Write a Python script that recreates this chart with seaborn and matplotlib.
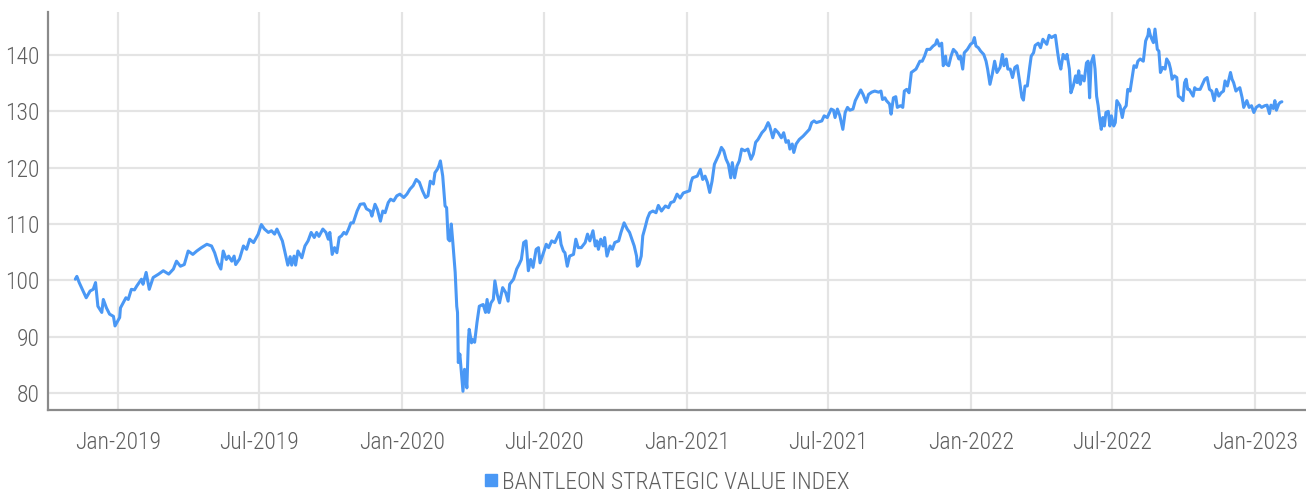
import matplotlib
matplotlib.use("Agg")
import matplotlib.pyplot as plt
import matplotlib.dates as mdates
from matplotlib import font_manager
from matplotlib.lines import Line2D
import pandas as pd
import seaborn as sns

# Index level, BANTLEON Strategic Value Index
dates = [
    "2018-11-07", "2018-11-09", "2018-11-12", "2018-11-16", "2018-11-21", "2018-11-26", "2018-11-30",
    "2018-12-03", "2018-12-06", "2018-12-11", "2018-12-13", "2018-12-17", "2018-12-21", "2018-12-26",
    "2018-12-28", "2019-01-03", "2019-01-04", "2019-01-11", "2019-01-14", "2019-01-18", "2019-01-22",
    "2019-01-25", "2019-01-31", "2019-02-02", "2019-02-06", "2019-02-10", "2019-02-15", "2019-02-22",
    "2019-02-28", "2019-03-07", "2019-03-13", "2019-03-17", "2019-03-22", "2019-03-27", "2019-04-01",
    "2019-04-07", "2019-04-12", "2019-04-18", "2019-04-25", "2019-05-01", "2019-05-05", "2019-05-09",
    "2019-05-13", "2019-05-16", "2019-05-20", "2019-05-23", "2019-05-27", "2019-05-30", "2019-06-01",
    "2019-06-06", "2019-06-11", "2019-06-15", "2019-06-19", "2019-06-24", "2019-06-30", "2019-07-04",
    "2019-07-08", "2019-07-13", "2019-07-17", "2019-07-21", "2019-07-24", "2019-07-28", "2019-07-31",
    "2019-08-03", "2019-08-07", "2019-08-10", "2019-08-12", "2019-08-15", "2019-08-17", "2019-08-20",
    "2019-08-25", "2019-08-29", "2019-09-02", "2019-09-06", "2019-09-10", "2019-09-13", "2019-09-16",
    "2019-09-21", "2019-09-25", "2019-09-28", "2019-09-30", "2019-10-03", "2019-10-06", "2019-10-09",
    "2019-10-12", "2019-10-15", "2019-10-18", "2019-10-21", "2019-10-24", "2019-10-27", "2019-10-30",
    "2019-11-04", "2019-11-08", "2019-11-13", "2019-11-16", "2019-11-21", "2019-11-23", "2019-11-27",
    "2019-11-30", "2019-12-04", "2019-12-07", "2019-12-10", "2019-12-14", "2019-12-17", "2019-12-21",
    "2019-12-25", "2019-12-29", "2020-01-03", "2020-01-07", "2020-01-11", "2020-01-15", "2020-01-19",
    "2020-01-23", "2020-01-27", "2020-01-31", "2020-02-03", "2020-02-06", "2020-02-10", "2020-02-12",
    "2020-02-15", "2020-02-17", "2020-02-19", "2020-02-22", "2020-02-25", "2020-02-27", "2020-02-29",
    "2020-03-02", "2020-03-04", "2020-03-06", "2020-03-09", "2020-03-11", "2020-03-12", "2020-03-13",
    "2020-03-15", "2020-03-17", "2020-03-19", "2020-03-21", "2020-03-22", "2020-03-24", "2020-03-26",
    "2020-03-27", "2020-03-30", "2020-03-31", "2020-04-03", "2020-04-06", "2020-04-09", "2020-04-12",
    "2020-04-14", "2020-04-17", "2020-04-19", "2020-04-21", "2020-04-24", "2020-04-27", "2020-04-29",
    "2020-05-02", "2020-05-05", "2020-05-09", "2020-05-13", "2020-05-16", "2020-05-18", "2020-05-23",
    "2020-05-27", "2020-05-30", "2020-06-02", "2020-06-05", "2020-06-08", "2020-06-11", "2020-06-14",
    "2020-06-17", "2020-06-21", "2020-06-24", "2020-06-26", "2020-06-29", "2020-07-04", "2020-07-07",
    "2020-07-11", "2020-07-15", "2020-07-18", "2020-07-21", "2020-07-23", "2020-07-26", "2020-07-28",
    "2020-07-31", "2020-08-03", "2020-08-08", "2020-08-11", "2020-08-14", "2020-08-18", "2020-08-23",
    "2020-08-26", "2020-08-29", "2020-09-02", "2020-09-05", "2020-09-07", "2020-09-09", "2020-09-12",
    "2020-09-15", "2020-09-17", "2020-09-20", "2020-09-24", "2020-09-27", "2020-09-30", "2020-10-05",
    "2020-10-08", "2020-10-12", "2020-10-16", "2020-10-19", "2020-10-22", "2020-10-25", "2020-10-28",
    "2020-10-29", "2020-10-31", "2020-11-03", "2020-11-05", "2020-11-08", "2020-11-11", "2020-11-14",
    "2020-11-18", "2020-11-22", "2020-11-25", "2020-11-29", "2020-12-04", "2020-12-08", "2020-12-11",
    "2020-12-15", "2020-12-19", "2020-12-23", "2020-12-27", "2020-12-31", "2021-01-04", "2021-01-06",
    "2021-01-08", "2021-01-14", "2021-01-18", "2021-01-21", "2021-01-24", "2021-01-27", "2021-01-30",
    "2021-02-02", "2021-02-05", "2021-02-08", "2021-02-11", "2021-02-14", "2021-02-17", "2021-02-20",
    "2021-02-23", "2021-02-26", "2021-02-28", "2021-03-03", "2021-03-06", "2021-03-09", "2021-03-12",
    "2021-03-16", "2021-03-20", "2021-03-24", "2021-03-27", "2021-03-30", "2021-04-02", "2021-04-07",
    "2021-04-11", "2021-04-15", "2021-04-17", "2021-04-21", "2021-04-24", "2021-04-28", "2021-05-02",
    "2021-05-05", "2021-05-08", "2021-05-11", "2021-05-13", "2021-05-16", "2021-05-18", "2021-05-21",
    "2021-05-25", "2021-05-30", "2021-06-03", "2021-06-07", "2021-06-10", "2021-06-13", "2021-06-16",
    "2021-06-23", "2021-06-26", "2021-06-30", "2021-07-05", "2021-07-08", "2021-07-10", "2021-07-13",
    "2021-07-16", "2021-07-20", "2021-07-23", "2021-07-26", "2021-07-29", "2021-08-02", "2021-08-05",
    "2021-08-09", "2021-08-12", "2021-08-15", "2021-08-19", "2021-08-22", "2021-08-26", "2021-08-30",
    "2021-09-04", "2021-09-07", "2021-09-09", "2021-09-12", "2021-09-14", "2021-09-18", "2021-09-20",
    "2021-09-23", "2021-09-26", "2021-09-28", "2021-10-02", "2021-10-05", "2021-10-07", "2021-10-10",
    "2021-10-13", "2021-10-16", "2021-10-19", "2021-10-22", "2021-10-27", "2021-10-30", "2021-11-02",
    "2021-11-05", "2021-11-09", "2021-11-13", "2021-11-16", "2021-11-18", "2021-11-21", "2021-11-24",
    "2021-11-26", "2021-11-29", "2021-11-30", "2021-12-03", "2021-12-06", "2021-12-09", "2021-12-13",
    "2021-12-16", "2021-12-18", "2021-12-21", "2021-12-23", "2021-12-27", "2021-12-31", "2022-01-03",
    "2022-01-05", "2022-01-07", "2022-01-10", "2022-01-13", "2022-01-17", "2022-01-20", "2022-01-22",
    "2022-01-25", "2022-01-28", "2022-01-31", "2022-02-03", "2022-02-07", "2022-02-10", "2022-02-12",
    "2022-02-15", "2022-02-17", "2022-02-20", "2022-02-23", "2022-02-26", "2022-03-01", "2022-03-04",
    "2022-03-07", "2022-03-09", "2022-03-11", "2022-03-14", "2022-03-17", "2022-03-19", "2022-03-22",
    "2022-03-24", "2022-03-28", "2022-03-31", "2022-04-03", "2022-04-08", "2022-04-11", "2022-04-14",
    "2022-04-19", "2022-04-22", "2022-04-24", "2022-04-26", "2022-04-29", "2022-05-02", "2022-05-04",
    "2022-05-07", "2022-05-09", "2022-05-12", "2022-05-15", "2022-05-17", "2022-05-19", "2022-05-21",
    "2022-05-23", "2022-05-26", "2022-05-29", "2022-05-31", "2022-06-02", "2022-06-04", "2022-06-07",
    "2022-06-09", "2022-06-11", "2022-06-13", "2022-06-15", "2022-06-17", "2022-06-19", "2022-06-21",
    "2022-06-23", "2022-06-26", "2022-06-28", "2022-06-30", "2022-07-03", "2022-07-05", "2022-07-07",
    "2022-07-11", "2022-07-14", "2022-07-16", "2022-07-19", "2022-07-21", "2022-07-24", "2022-07-27",
    "2022-07-29", "2022-08-01", "2022-08-03", "2022-08-06", "2022-08-10", "2022-08-13", "2022-08-16",
    "2022-08-17", "2022-08-19", "2022-08-21", "2022-08-23", "2022-08-25", "2022-08-28", "2022-08-30",
    "2022-09-01", "2022-09-04", "2022-09-07", "2022-09-09", "2022-09-12", "2022-09-14", "2022-09-16",
    "2022-09-19", "2022-09-22", "2022-09-24", "2022-09-27", "2022-09-30", "2022-10-02", "2022-10-04",
    "2022-10-06", "2022-10-08", "2022-10-13", "2022-10-15", "2022-10-17", "2022-10-22", "2022-10-25",
    "2022-10-28", "2022-10-31", "2022-11-03", "2022-11-06", "2022-11-09", "2022-11-12", "2022-11-15",
    "2022-11-18", "2022-11-21", "2022-11-23", "2022-11-26", "2022-11-30", "2022-12-02", "2022-12-04",
    "2022-12-07", "2022-12-09", "2022-12-12", "2022-12-15", "2022-12-17", "2022-12-19", "2022-12-21",
    "2022-12-24", "2022-12-27", "2022-12-30", "2023-01-02", "2023-01-06", "2023-01-09", "2023-01-13",
    "2023-01-16", "2023-01-19", "2023-01-21", "2023-01-24", "2023-01-26", "2023-01-28", "2023-01-31",
    "2023-02-02", "2023-02-04",
]

values = [
    100.2, 100.7, 99.6, 98.4, 96.9, 98.1, 98.4,
    99.6, 95.4, 94.3, 96.6, 95.1, 94.0, 93.6,
    91.9, 93.4, 95.1, 96.9, 96.6, 98.4, 98.3,
    99.0, 100.2, 99.3, 101.4, 98.4, 100.5, 101.1,
    101.7, 101.1, 102.0, 103.4, 102.5, 102.8, 105.2,
    104.6, 105.2, 105.8, 106.4, 106.1, 104.9, 103.1,
    102.0, 105.2, 103.7, 104.3, 103.4, 104.3, 102.8,
    103.8, 106.1, 105.5, 107.3, 106.7, 108.2, 109.9,
    109.1, 108.5, 108.8, 108.2, 109.1, 107.9, 107.0,
    105.2, 102.7, 104.2, 102.7, 104.3, 102.7, 105.2,
    104.0, 106.1, 107.0, 108.5, 107.6, 108.5, 107.8,
    109.1, 108.5, 107.3, 108.5, 104.6, 105.8, 104.9,
    107.6, 107.9, 108.5, 108.2, 109.1, 110.2, 110.2,
    112.3, 113.5, 113.6, 112.7, 112.3, 111.4, 113.5,
    112.6, 110.5, 112.3, 112.0, 113.8, 114.4, 114.1,
    115.0, 115.3, 114.7, 115.3, 116.2, 116.8, 117.9,
    117.4, 115.9, 114.7, 115.0, 117.6, 117.1, 119.1,
    119.7, 120.3, 121.2, 118.5, 113.2, 112.9, 107.3,
    107.0, 110.0, 106.7, 101.4, 95.4, 94.3, 85.4,
    86.9, 83.6, 80.3, 84.2, 83.6, 80.9, 89.5,
    91.3, 88.9, 89.5, 89.0, 92.5, 95.4, 95.6,
    95.7, 94.3, 96.6, 94.3, 96.0, 96.6, 99.9,
    97.5, 96.0, 98.7, 97.8, 96.3, 99.3, 100.2,
    102.0, 102.8, 103.7, 106.7, 107.0, 101.7, 103.7,
    102.3, 105.5, 105.8, 103.1, 104.3, 106.4, 105.8,
    107.0, 106.7, 107.6, 108.5, 106.4, 105.2, 104.9,
    102.5, 104.3, 104.6, 107.3, 105.8, 105.8, 106.7,
    108.2, 107.0, 108.8, 106.1, 107.0, 105.5, 107.3,
    106.1, 107.6, 104.3, 106.1, 105.5, 106.7, 107.0,
    108.5, 110.2, 109.1, 108.5, 107.3, 106.1, 104.3,
    102.5, 102.8, 104.3, 107.9, 109.4, 111.0, 112.0,
    112.3, 112.0, 113.3, 112.3, 113.2, 112.9, 113.8,
    114.0, 115.3, 114.6, 115.5, 115.7, 115.9, 117.4,
    118.2, 118.5, 119.7, 117.9, 118.5, 117.4, 115.6,
    117.6, 120.6, 121.5, 122.4, 123.6, 123.0, 121.5,
    120.6, 118.2, 120.9, 118.2, 120.3, 121.2, 123.3,
    123.0, 123.3, 121.5, 122.4, 124.5, 125.0, 126.2,
    126.8, 128.0, 127.4, 125.3, 126.8, 126.2, 125.3,
    126.2, 124.5, 124.8, 123.3, 124.2, 122.7, 124.2,
    125.0, 125.6, 126.2, 126.8, 128.0, 128.3, 128.0,
    128.3, 129.2, 128.9, 130.4, 130.2, 128.9, 130.4,
    129.3, 126.8, 129.8, 130.7, 130.2, 130.4, 131.9,
    133.0, 133.8, 133.0, 131.6, 133.0, 133.4, 133.6,
    133.4, 133.6, 132.1, 132.4, 131.9, 131.3, 129.5,
    132.4, 132.6, 130.7, 131.0, 130.7, 133.6, 133.9,
    133.3, 136.9, 137.2, 137.5, 138.9, 138.9, 139.8,
    141.0, 141.0, 141.6, 141.9, 142.7, 141.6, 142.1,
    138.1, 139.8, 138.4, 138.1, 139.8, 141.0, 140.4,
    139.3, 139.8, 137.5, 140.4, 141.0, 141.9, 142.2,
    143.1, 141.6, 141.3, 140.7, 140.1, 138.9, 137.5,
    134.8, 136.6, 138.9, 136.9, 137.8, 140.1, 138.1,
    139.3, 137.5, 137.5, 136.0, 137.8, 138.1, 135.4,
    132.5, 132.0, 134.5, 134.5, 137.8, 139.8, 140.4,
    141.7, 142.1, 141.3, 142.8, 141.9, 143.5, 143.1,
    143.5, 140.4, 138.6, 137.5, 140.1, 139.3, 140.1,
    137.5, 133.3, 134.5, 136.3, 135.1, 137.2, 134.8,
    136.3, 135.4, 138.6, 138.9, 132.4, 138.6, 139.9,
    137.5, 132.7, 131.0, 128.6, 126.8, 128.9, 127.4,
    129.8, 130.0, 127.4, 129.2, 127.4, 128.0, 131.9,
    131.0, 128.9, 130.4, 131.0, 133.9, 133.6, 136.3,
    138.1, 137.8, 138.9, 139.3, 138.9, 142.5, 143.5,
    144.6, 143.5, 142.8, 142.2, 144.6, 141.0, 140.7,
    136.9, 137.8, 137.5, 139.3, 138.6, 137.5, 135.7,
    136.3, 136.0, 132.7, 132.4, 131.9, 135.1, 135.7,
    133.9, 133.9, 132.7, 134.2, 133.9, 133.9, 134.8,
    135.7, 136.0, 133.9, 133.6, 131.9, 133.9, 132.7,
    133.3, 133.6, 135.4, 134.5, 136.9, 135.7, 135.1,
    133.6, 133.9, 134.2, 132.4, 130.7, 131.3, 131.9,
    130.7, 131.0, 129.8, 130.7, 131.1, 130.7, 131.0,
    131.1, 129.6, 131.1, 130.5, 131.9, 130.2, 131.3,
    131.6, 131.7,
]

series_name = "BANTLEON STRATEGIC VALUE INDEX"
y_ticks = [80, 90, 100, 110, 120, 130, 140]

LINE_BLUE = "#4a98f5"
TEXT_GREY = "#5f5f5f"
GRID_GREY = "#e4e4e4"
SPINE_GREY = "#8a8a8a"

sns.set_theme(style="white")

available = {f.name for f in font_manager.fontManager.ttflist}
family = "DejaVu Sans"
for cand in ["Roboto Condensed", "Liberation Sans Narrow", "DejaVu Sans Condensed", "Roboto"]:
    if cand in available:
        family = cand
        break
plt.rcParams["font.family"] = [family, "DejaVu Sans"]

df = pd.DataFrame({"date": pd.to_datetime(dates), "value": values})

fig = plt.figure(figsize=(13.06, 4.93), dpi=100)
ax = fig.add_axes([0.0368, 0.1684, 0.9632, 0.8073])

sns.lineplot(data=df, x="date", y="value", ax=ax, color=LINE_BLUE,
             linewidth=2.2, legend=False, zorder=3)

ax.set_xlim(pd.Timestamp("2018-10-03"), pd.Timestamp("2023-03-07"))
ax.set_ylim(76.98, 147.64)
ax.set_yticks(y_ticks)

ax.xaxis.set_major_locator(mdates.MonthLocator(bymonth=[1, 7]))
ax.xaxis.set_major_formatter(mdates.DateFormatter("%b-%Y"))

ax.grid(True, axis="both", color=GRID_GREY, linewidth=1.6, zorder=0)
ax.set_axisbelow(True)

for side in ["top", "right"]:
    ax.spines[side].set_visible(False)
for side in ["left", "bottom"]:
    ax.spines[side].set_color(SPINE_GREY)
    ax.spines[side].set_linewidth(1.6)

ax.tick_params(axis="x", length=0, pad=15, labelsize=17, labelcolor=TEXT_GREY)
ax.tick_params(axis="y", length=0, pad=6, labelsize=17, labelcolor=TEXT_GREY)
for lbl in ax.get_xticklabels() + ax.get_yticklabels():
    lbl.set_fontweight("light")
ax.set_xlabel("")
ax.set_ylabel("")

handle = Line2D([], [], linestyle="none", marker="s", markersize=8,
                markerfacecolor=LINE_BLUE, markeredgecolor=LINE_BLUE)
leg = fig.legend([handle], [series_name], loc="center",
                 bbox_to_anchor=(666 / 1306, 1 - 482 / 493), frameon=False,
                 handletextpad=0.1, handlelength=0.7,
                 prop={"size": 17, "weight": "light"})
for t in leg.get_texts():
    t.set_color(TEXT_GREY)

fig.savefig("out.png", dpi=100)
